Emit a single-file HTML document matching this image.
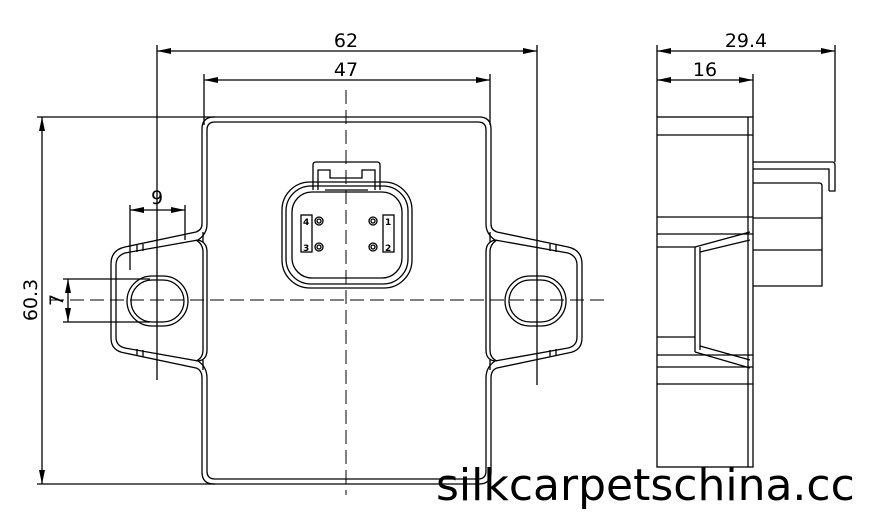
<!DOCTYPE html>
<html><head><meta charset="utf-8"><style>
html,body{margin:0;padding:0;background:#fff;width:869px;height:528px;overflow:hidden}
svg{display:block}
text{font-family:"DejaVu Sans","Liberation Sans",sans-serif;fill:#000}
</style></head><body>
<svg width="869" height="528" viewBox="0 0 869 528" xmlns="http://www.w3.org/2000/svg">
<g stroke="#000" stroke-width="1.3" fill="none">
<!-- dimension lines -->
<line x1="157" y1="51" x2="537" y2="51"/>
<line x1="157" y1="45" x2="157" y2="380"/>
<line x1="537" y1="45" x2="537" y2="385"/>
<line x1="204" y1="80" x2="490" y2="80"/>
<line x1="204" y1="74" x2="204" y2="125"/>
<line x1="490" y1="74" x2="490" y2="125"/>
<line x1="42" y1="117" x2="42" y2="484"/>
<line x1="37" y1="117" x2="215" y2="117"/>
<line x1="37" y1="484" x2="215" y2="484"/>
<line x1="68" y1="279" x2="68" y2="322"/>
<line x1="63" y1="279" x2="150" y2="279"/>
<line x1="63" y1="322" x2="150" y2="322"/>
<line x1="130" y1="210" x2="185" y2="210"/>
<line x1="130" y1="205" x2="130" y2="270"/>
<line x1="185" y1="205" x2="185" y2="240"/>
<line x1="657" y1="51" x2="835" y2="51"/>
<line x1="657" y1="80" x2="753" y2="80"/>
<line x1="657" y1="45" x2="657" y2="117"/>
<line x1="835" y1="45" x2="835" y2="162"/>
<line x1="753" y1="74" x2="753" y2="117"/>
</g>
<g fill="#000">
<polygon points="157,51 171,48 171,54"/><polygon points="537,51 523,48 523,54"/>
<polygon points="204,80 218,77 218,83"/><polygon points="490,80 476,77 476,83"/>
<polygon points="657,51 671,48 671,54"/><polygon points="835,51 821,48 821,54"/>
<polygon points="657,80 671,77 671,83"/><polygon points="753,80 739,77 739,83"/>
<polygon points="130,210 144,207 144,213"/><polygon points="185,210 171,207 171,213"/>
<polygon points="42,117 39,131 45,131"/><polygon points="42,484 39,470 45,470"/>
<polygon points="68,279 65,293 71,293"/><polygon points="68,322 65,308 71,308"/>
</g>
<!-- plate: right half, mirrored -->
<g id="half" stroke="#000" stroke-width="1.3" fill="none">
<path d="M346.5,117 H479 Q491,117 491,129 V224 Q491,230 497,232 L568,247 Q582,250 582,264 V338 Q582,351 568,353 L497,368 Q491,370 491,378 V472 Q491,484 479,484 H346.5"/>
<path d="M346.5,122 H478 Q486,122 486,130 V224 Q486,234 495,240 L568,253 Q577,256 577,265 V337 Q577,346 568,348 L495,361 Q486,367 486,378 V471 Q486,479 478,479 H346.5"/>
<path d="M495,240 Q486,242 486,252 V350 Q486,360 495,361"/>
<path d="M497,240 Q490,244 490,252 V350 Q490,358 497,361"/>
<path d="M490,232 V242 M490,360 V370 M550,244 V251 M556,245 V252 M550,350 V357 M556,349 V356"/>
</g>
<use href="#half" transform="matrix(-1,0,0,1,693,0)"/>
<g stroke="#000" stroke-width="1.3" fill="none">
<!-- holes -->
<rect x="127" y="276" width="61" height="50" rx="25"/>
<rect x="131" y="280" width="53" height="42" rx="21"/>
<rect x="505" y="276" width="61" height="50" rx="25"/>
<rect x="509" y="280" width="53" height="42" rx="21"/>
<!-- connector -->
<rect x="282" y="182" width="130" height="106" rx="28"/>
<rect x="286" y="186" width="122" height="98" rx="25"/>
<rect x="292" y="192" width="110" height="86" rx="20"/>
<path d="M313,190 V165 Q313,162 316,162 H377 Q380,162 380,165 V190 M318,190 V170 H330 V178 H362 V170 H375 V190 M325,190 H368"/>
<rect x="301" y="215" width="11" height="37"/>
<rect x="383" y="215" width="11" height="37"/>
<circle cx="319" cy="221" r="4"/><circle cx="319" cy="221" r="2"/>
<circle cx="319" cy="247" r="4"/><circle cx="319" cy="247" r="2"/>
<circle cx="373" cy="221" r="4"/><circle cx="373" cy="221" r="2"/>
<circle cx="373" cy="247" r="4"/><circle cx="373" cy="247" r="2"/>
<!-- side view -->
<rect x="657" y="117" width="96" height="350"/>
<path d="M657,135 H753 M657,217 H753 M657,234 H753 M657,247 H695 M657,337 H695 M657,355 H753 M657,367 H753 M657,384 H753 M748,117 V467"/>
<path d="M695,247 V352 M700,247 V350"/>
<path d="M695,247 L750,232 M700,252 L750,240 M695,352 L750,368 M700,346 L750,360"/>
<path d="M753,162 H832 Q835,162 835,165 V191 H829 M753,169 H829 V191 M753,183 H819 Q822,183 822,186 V286 H753 M753,218 H822 M753,250 H822"/>
</g>
<!-- centre lines -->
<g stroke="#000" stroke-width="1" fill="none" stroke-dasharray="14,6">
<line x1="346" y1="90" x2="346" y2="495"/>
<line x1="50" y1="300" x2="605" y2="300"/>
<line x1="157" y1="220" x2="157" y2="380"/>
<line x1="537" y1="220" x2="537" y2="385"/>
</g>
<g font-size="19">
<text x="346" y="47" text-anchor="middle">62</text>
<text x="346" y="76" text-anchor="middle">47</text>
<text x="746" y="47" text-anchor="middle">29.4</text>
<text x="705" y="76" text-anchor="middle">16</text>
<text x="157" y="204" text-anchor="middle">9</text>
<text transform="translate(37,300) rotate(-90)" text-anchor="middle">60.3</text>
<text transform="translate(63,300) rotate(-90)" text-anchor="middle">7</text>
</g>
<g font-size="9" font-weight="bold">
<text x="303" y="225">4</text><text x="303" y="251">3</text>
<text x="385" y="225">1</text><text x="385" y="251">2</text>
</g>
<text x="436" y="500" font-family="Liberation Sans, sans-serif" font-size="44">silkcarpetschina.cc</text>
</svg>
</body></html>
